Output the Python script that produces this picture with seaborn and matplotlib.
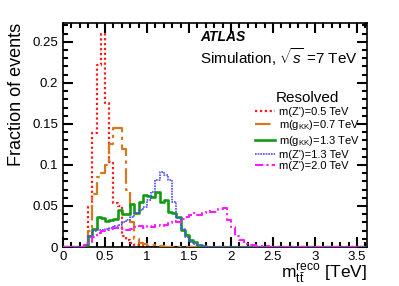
import numpy as np
import pandas as pd
import matplotlib
matplotlib.use("Agg")
import matplotlib.pyplot as plt
import seaborn as sns
from matplotlib.lines import Line2D

# ---------------- data (fraction of events per 0.05 TeV bin) ----------------
bin_width = 0.05
x_max = 3.6
first_bin = 0.25  # lower edge of first listed bin

labels = [r"m(Z')=0.5 TeV", r"m(g$_{\mathrm{KK}}$)=0.7 TeV",
          r"m(g$_{\mathrm{KK}}$)=1.3 TeV", r"m(Z')=1.3 TeV", r"m(Z')=2.0 TeV"]

zp05 = [0.003, 0.049, 0.139, 0.222, 0.260, 0.175, 0.104, 0.054, 0.050, 0.013,
        0.008, 0.005, 0.003, 0.002, 0.001, 0.001]
gkk07 = [0.005, 0.020, 0.065, 0.085, 0.090, 0.100, 0.125, 0.145, 0.145, 0.120,
         0.070, 0.030, 0.010, 0.005, 0.004, 0.003, 0.002, 0.001, 0.001]
gkk13 = [0.003, 0.013, 0.022, 0.036, 0.035, 0.032, 0.033, 0.034, 0.045, 0.040,
         0.040, 0.053, 0.041, 0.055, 0.063, 0.062, 0.061, 0.067, 0.055, 0.057,
         0.043, 0.041, 0.037, 0.021, 0.015, 0.0085, 0.0065, 0.002, 0.001]
zp13 = [0.002, 0.013, 0.020, 0.021, 0.021, 0.022, 0.023, 0.025, 0.027, 0.030,
        0.033, 0.036, 0.041, 0.045, 0.049, 0.057, 0.067, 0.082, 0.092, 0.088,
        0.082, 0.055, 0.035, 0.022, 0.012, 0.006, 0.004, 0.002, 0.001]
zp20 = [0.002, 0.006, 0.012, 0.017, 0.020, 0.021, 0.022, 0.023, 0.023, 0.022,
        0.021, 0.022, 0.024, 0.025, 0.023, 0.025, 0.024, 0.027, 0.026, 0.027,
        0.029, 0.032, 0.031, 0.034, 0.037, 0.039, 0.041, 0.039, 0.041, 0.044,
        0.043, 0.043, 0.046, 0.048, 0.033, 0.024, 0.014, 0.008, 0.004, 0.003,
        0.002, 0.0015, 0.001, 0.001]

x_ticks = [0, 0.5, 1, 1.5, 2, 2.5, 3, 3.5]
x_tick_labels = ["0", "0.5", "1", "1.5", "2", "2.5", "3", "3.5"]
y_ticks = [0, 0.05, 0.1, 0.15, 0.2, 0.25]
y_tick_labels = ["0", "0.05", "0.1", "0.15", "0.2", "0.25"]

series = [zp05, gkk07, gkk13, zp13, zp20]
colors = ["#ff1a1a", "#d27a1e", "#139a13", "#4d4dff", "#ff1aff"]
styles = [(0, (1, 1.2)), (0, (7, 2, 1.5, 2)), "-", (0, (1, 0.6)), (0, (4, 1.5, 1, 1.5))]
widths = [1.6, 1.6, 1.9, 1.2, 1.5]

n_bins = int(round(x_max / bin_width))
centers = (np.arange(n_bins) + 0.5) * bin_width
start = int(round(first_bin / bin_width))

rows = []
for lab, vals in zip(labels, series):
    full = np.zeros(n_bins)
    full[start:start + len(vals)] = vals
    rows.append(pd.DataFrame({"mtt": centers, "frac": full, "sample": lab}))
df = pd.concat(rows, ignore_index=True)

# ---------------- figure ----------------
plt.rcParams.update({
    "font.family": ["Liberation Sans", "DejaVu Sans"],
    "mathtext.fontset": "custom",
    "mathtext.rm": "Liberation Sans",
    "mathtext.it": "Liberation Sans:italic",
    "mathtext.bf": "Liberation Sans:bold",
    "axes.edgecolor": "black", "axes.linewidth": 1.2,
})

fig = plt.figure(figsize=(3.99, 2.86), dpi=100)
ax = fig.add_axes([63 / 399, 1 - 247 / 286, (367 - 63) / 399, (247 - 23) / 286])

# draw in order so that orange ends on top along zero
order = [4, 3, 0, 2, 1]
for k in order:
    sub = df[df["sample"] == labels[k]]
    sns.histplot(data=sub, x="mtt", weights="frac", binwidth=bin_width,
                 binrange=(0, x_max), element="step",
                 fill=False, color=colors[k], linestyle=styles[k],
                 linewidth=widths[k], ax=ax, zorder=2 + k)

ax.set_xlim(0, 3.62)
ax.set_ylim(0, 0.273)
ax.set_xticks(x_ticks)
ax.set_xticklabels(x_tick_labels)
ax.set_yticks(y_ticks)
ax.set_yticklabels(y_tick_labels)
ax.set_xticks(np.arange(0, 3.62, 0.1), minor=True)
ax.set_yticks(np.arange(0, 0.273, 0.01), minor=True)

ax.set_ylabel("Fraction of events", fontsize=13, color="black")
ax.yaxis.set_label_coords(-0.125, 1.0)
ax.yaxis.label.set_ha("right")
ax.set_xlabel(r"m$_{\mathrm{t\bar{t}}}^{\mathrm{reco}}$ [TeV]", fontsize=12.5,
              color="black")
ax.xaxis.set_label_coords(1.0, -0.142)
ax.xaxis.label.set_ha("right")
ax.xaxis.label.set_va("baseline")

ax.text(200 / 399, 1 - 37 / 286, "ATLAS", transform=fig.transFigure,
        fontsize=10, fontweight="bold", fontstyle="italic", va="center")
ax.text(200 / 399, 1 - 57 / 286, r"Simulation, $\sqrt{s}$ =7 TeV",
        transform=fig.transFigure, fontsize=11, va="center")

handles = [Line2D([0], [0], color=c, linestyle=st, linewidth=w)
           for c, st, w in zip(colors, styles, widths)]
leg = ax.legend(handles, labels, title="Resolved", loc="upper left",
                bbox_to_anchor=((255 - 63) / 304, (247 - 91) / 224),
                frameon=False, fontsize=8, title_fontsize=11,
                handlelength=1.8, handletextpad=0.4, labelspacing=0.15,
                borderpad=0, borderaxespad=0)

# ticks last, explicit, inward on all four sides
ax.tick_params(which="both", direction="in", top=True, right=True,
               bottom=True, left=True, color="black", width=1.5,
               labelsize=9.5, labelcolor="black")
ax.tick_params(which="major", length=7)
ax.tick_params(which="minor", length=3.5)
ax.tick_params(axis="x", which="major", pad=3)

fig.savefig("out.png", dpi=100)
